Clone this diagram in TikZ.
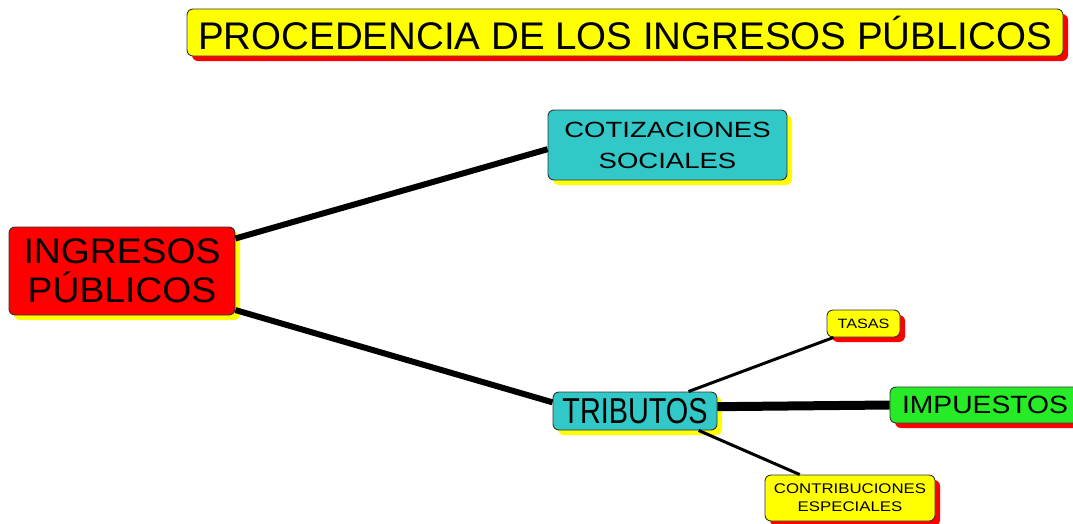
\documentclass[tikz,border=0pt]{standalone}
\usepackage{fontspec}
\setmainfont{Liberation Sans}
\newfontfamily\fuenteIng[FakeStretch=1.05]{Liberation Sans}
\newfontfamily\fuenteCot[FakeStretch=1.25]{Liberation Sans}
\newfontfamily\fuenteTrib[FakeStretch=0.8]{Liberation Sans}
\newfontfamily\fuenteImp[FakeStretch=1.13]{Liberation Sans}
\newfontfamily\fuentePeq[FakeStretch=1.2]{Liberation Sans}
\usepackage{tikz}
\usetikzlibrary{shadows}
\usetikzlibrary{positioning}
\usepackage{xcolor}

\definecolor{amarillo}{RGB}{255,255,0}
\definecolor{rojo}{RGB}{255,0,0}
\definecolor{turquesa}{RGB}{51,200,200}
\definecolor{verde}{RGB}{40,235,40}

\tikzset{
	caja/.style={draw=black!80, line width=0.9pt, rounded corners=6pt, align=center, inner sep=0pt},
	sombraR/.style={drop shadow={fill=rojo, opacity=1, shadow xshift=5pt, shadow yshift=-5pt}},
	sombraA/.style={drop shadow={fill=amarillo, opacity=1, shadow xshift=5pt, shadow yshift=-5pt}},
	rama/.style={line width=#1, black}
}

\begin{document}
\begin{tikzpicture}[x=1pt, y=-1pt]
				\useasboundingbox (0,0) rectangle (1073,523);
				% titulo
				\node[caja, sombraR, fill=amarillo, minimum width=876pt, minimum height=47pt, font=\fontsize{38.5}{40}\selectfont] (titulo) at (625,32.5) {PROCEDENCIA DE LOS INGRESOS PÚBLICOS};
				% nodos
				\node[caja, sombraA, fill=rojo, minimum width=226pt, minimum height=88pt, font=\fuenteIng\fontsize{35.5}{39}\selectfont] (ing) at (122,271) {INGRESOS\\PÚBLICOS};
				\node[caja, sombraA, fill=turquesa, minimum width=239pt, minimum height=70pt, font=\fuenteCot\fontsize{22}{31}\selectfont] (cot) at (667.5,145) {COTIZACIONES\\SOCIALES};
				\node[caja, sombraA, fill=turquesa, minimum width=164pt, minimum height=38pt, font=\fuenteTrib\fontsize{36}{38}\selectfont] (trib) at (635,411) {TRIBUTOS};
				\node[caja, sombraR, fill=verde, minimum width=190pt, minimum height=36pt, font=\fuenteImp\fontsize{25}{28}\selectfont] (imp) at (985,405) {IMPUESTOS};
				\node[caja, sombraR, fill=amarillo, minimum width=73pt, minimum height=27pt, font=\fuentePeq\fontsize{13.5}{16}\selectfont] (tas) at (863.5,323.5) {TASAS};
				\node[caja, sombraR, fill=amarillo, minimum width=170pt, minimum height=46pt, font=\fuentePeq\fontsize{14}{18}\selectfont] (con) at (850,498) {CONTRIBUCIONES\\ESPECIALES};
				% ramas
				\draw[rama=6pt] (ing.16) -- (cot.182);
				\draw[rama=6pt] (ing.-19) -- (trib.174);
				\draw[rama=3pt] (trib.20) -- (tas.205);
				\draw[rama=9pt] (trib.3) -- (imp.west);
				\draw[rama=3pt] (trib.-17) -- (con.155);
			\end{tikzpicture}
\end{document}
